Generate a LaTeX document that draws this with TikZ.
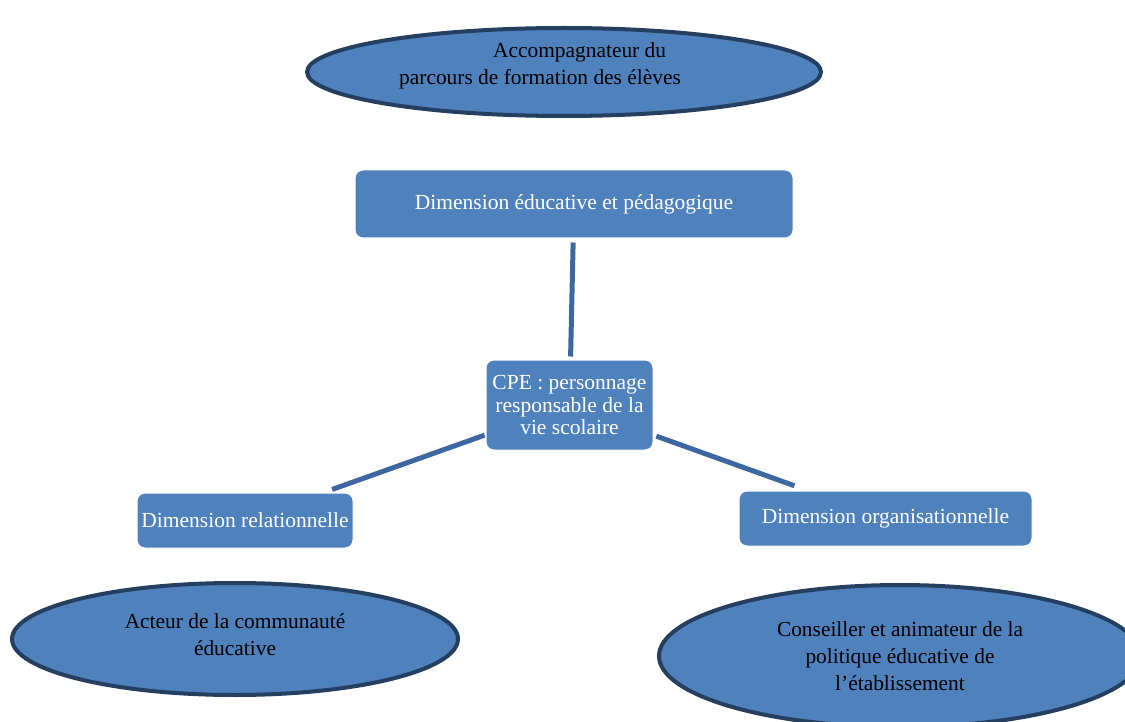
\documentclass[tikz,border=0pt]{standalone}
\usepackage{fontspec}
\setmainfont{Liberation Serif}
\usetikzlibrary{shapes.geometric}
\definecolor{fillblue}{HTML}{4F81BD}
\definecolor{edgeblue}{HTML}{243F60}
\definecolor{linkblue}{HTML}{3C67A0}
\tikzset{
  oval/.style={ellipse, draw=edgeblue, line width=4pt, fill=fillblue, inner sep=0pt,
    text=black, align=center, font=\fontsize{21.4}{27}\selectfont},
  dimbox/.style={rectangle, rounded corners=8pt, fill=fillblue, draw=white, line width=1pt,
    inner sep=0pt, text=white, align=center, font=\fontsize{21.5}{22.5}\selectfont},
  link/.style={draw=linkblue, line width=5pt}
}
\begin{document}
\begin{tikzpicture}[x=1pt,y=-1pt]
\useasboundingbox (0,0) rectangle (1125,722);
% ellipses
\node[oval, minimum width=514pt, minimum height=88pt, align=left, text depth=17pt] (acc) at (564,72)
  {\hspace*{94pt}Accompagnateur du\\parcours de formation des élèves\hspace*{48pt}};
\node[oval, minimum width=446pt, minimum height=112pt, text depth=8pt] (act) at (235,639)
  {Acteur de la communauté\\éducative};
\node[oval, minimum width=482pt, minimum height=142pt] (cons) at (900,656)
  {Conseiller et animateur de la\\politique éducative de\\l’établissement};
% boxes
\node[dimbox, minimum width=438pt, minimum height=68pt] (edu) at (574,204)
  {Dimension éducative et pédagogique};
\node[dimbox, minimum width=167pt, minimum height=90pt] (cpe) at (569.5,405)
  {CPE : personnage\\responsable de la\\vie scolaire};
\node[dimbox, minimum width=216pt, minimum height=55pt] (rel) at (245,520.5)
  {Dimension relationnelle};
\node[dimbox, minimum width=293pt, minimum height=55pt] (org) at (885.5,518.5)
  {Dimension organisationnelle};
% connectors
\draw[link, shorten <=4pt, shorten >=3pt] (edu) -- (cpe);
\draw[link, shorten <=1pt, shorten >=9pt] (cpe) -- (rel);
\draw[link, shorten <=3pt, shorten >=14pt] (cpe) -- (org);
\end{tikzpicture}
\end{document}
